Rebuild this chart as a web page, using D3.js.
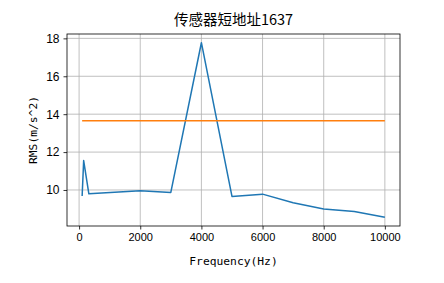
<!DOCTYPE html>
<html>
<head>
<meta charset="utf-8">
<script src="https://cdn.jsdelivr.net/npm/d3@7"></script>
<style>
  body { margin: 0; background: #fff; }
  svg { display: block; }
  .tick text { fill: #000; }
  .xaxis .tick text { font-family: "Liberation Sans", Arial, sans-serif; font-size: 11px; }
  .yaxis .tick text { font-family: "Liberation Sans Narrow", "Liberation Sans", sans-serif; font-size: 12px; }
  .label { font-family: "DejaVu Sans Mono", "Liberation Mono", monospace; font-size: 11.3px; }
</style>
</head>
<body>
<svg width="444" height="283"></svg>
<script>
let titleText = "传感器短地址1637";
let xLabel = "Frequency(Hz)";
let yLabel = "RMS(m/s^2)";

let freqs = [100, 150, 320, 2000, 3000, 4000, 5000, 6000, 7000, 8000, 9000, 10000];
let rms = [9.68, 11.55, 9.8, 9.96, 9.87, 17.77, 9.66, 9.78, 9.33, 9.0, 8.87, 8.56];
let limitX = [100, 10000];
let limitY = [13.65, 13.65];

let xTicks = [0, 2000, 4000, 6000, 8000, 10000];
let yTicks = [10, 12, 14, 16, 18];

let svg = d3.select("svg");
let margin = {top: 34, right: 44, bottom: 57, left: 67},
    width = 444 - margin.left - margin.right,
    height = 283 - margin.top - margin.bottom,
    g = svg.append("g").attr("transform", "translate(" + margin.left + "," + margin.top + ")");

// matplotlib style 5% margins around data
let xmin = d3.min(freqs), xmax = d3.max(freqs),
    ymin = d3.min(rms.concat(limitY)), ymax = d3.max(rms.concat(limitY));
let xpad = (xmax - xmin) * 0.05, ypad = (ymax - ymin) * 0.05;

let x = d3.scaleLinear().domain([xmin - xpad, xmax + xpad]).range([0, width]);
let y = d3.scaleLinear().domain([ymin - ypad, ymax + ypad]).range([height, 0]);

// grid
g.append("g").selectAll("line").data(xTicks).enter().append("line")
    .attr("x1", d => x(d)).attr("x2", d => x(d))
    .attr("y1", 0).attr("y2", height)
    .attr("stroke", "#b0b0b0").attr("stroke-width", 0.8);
g.append("g").selectAll("line").data(yTicks).enter().append("line")
    .attr("x1", 0).attr("x2", width)
    .attr("y1", d => y(d)).attr("y2", d => y(d))
    .attr("stroke", "#b0b0b0").attr("stroke-width", 0.8);

let line = d3.line()
    .x(d => x(d[0]))
    .y(d => y(d[1]));

g.append("path")
    .datum(d3.zip(freqs, rms))
    .attr("fill", "none")
    .attr("stroke", "#1f77b4")
    .attr("stroke-width", 1.5)
    .attr("stroke-linejoin", "round")
    .attr("d", line);

g.append("path")
    .datum(d3.zip(limitX, limitY))
    .attr("fill", "none")
    .attr("stroke", "#ff7f0e")
    .attr("stroke-width", 1.5)
    .attr("d", line);

// axes
let xAxis = g.append("g")
    .attr("class", "xaxis")
    .attr("transform", "translate(0," + height + ")")
    .call(d3.axisBottom(x).tickValues(xTicks).tickSize(3.5).tickPadding(4).tickFormat(d3.format("d")));
let yAxis = g.append("g")
    .attr("class", "yaxis")
    .call(d3.axisLeft(y).tickValues(yTicks).tickSize(3.5).tickPadding(4).tickFormat(d3.format("d")));
[xAxis, yAxis].forEach(a => {
    a.select(".domain").remove();
    a.selectAll(".tick line").attr("stroke", "#000").attr("stroke-width", 0.8);
});

// frame
g.append("rect")
    .attr("width", width).attr("height", height)
    .attr("fill", "none").attr("stroke", "#000").attr("stroke-width", 0.8);

svg.append("text")
    .attr("x", margin.left + width / 2)
    .attr("y", 25)
    .attr("text-anchor", "middle")
    .style("font-family", "'Noto Sans CJK SC', sans-serif")
    .style("font-size", "14.5px")
    .text(titleText);

svg.append("text")
    .attr("class", "label")
    .attr("x", margin.left + width / 2)
    .attr("y", 265)
    .attr("text-anchor", "middle")
    .text(xLabel);

svg.append("text")
    .attr("class", "label")
    .attr("transform", "translate(37," + (margin.top + height / 2) + ") rotate(-90)")
    .attr("text-anchor", "middle")
    .text(yLabel);
</script>
</body>
</html>
